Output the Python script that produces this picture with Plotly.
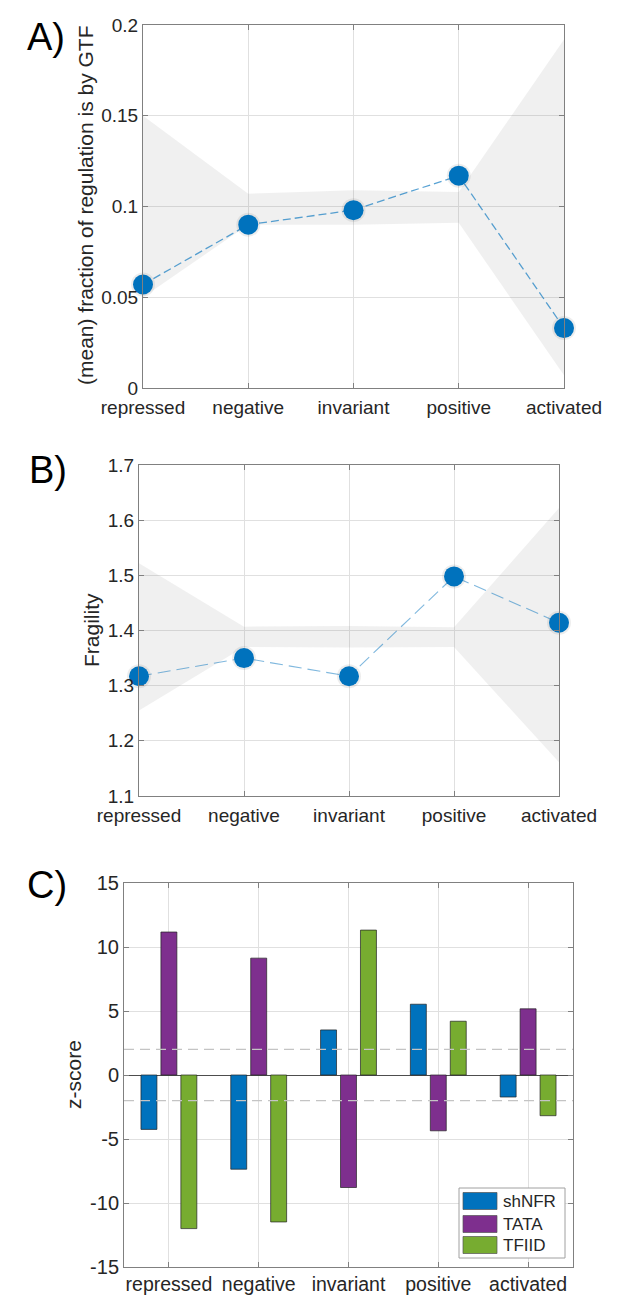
import plotly.graph_objects as go

# ---------------- data ----------------
categories = ["repressed", "negative", "invariant", "positive", "activated"]
cat_pos = [1, 2, 3, 4, 5]

gtf_mean = [0.057, 0.090, 0.098, 0.117, 0.033]
gtf_band_upper = [0.150, 0.107, 0.109, 0.108, 0.192]
gtf_band_lower = [0.050, 0.090, 0.090, 0.091, 0.007]
gtf_ticks = [0, 0.05, 0.1, 0.15, 0.2]

frag_mean = [1.317, 1.350, 1.317, 1.498, 1.414]
frag_band_upper = [1.522, 1.407, 1.408, 1.406, 1.622]
frag_band_lower = [1.255, 1.370, 1.369, 1.370, 1.161]
frag_ticks = [1.1, 1.2, 1.3, 1.4, 1.5, 1.6, 1.7]

series_names = ["shNFR", "TATA", "TFIID"]
zscore_shNFR = [-4.25, -7.36, 3.52, 5.53, -1.72]
zscore_TATA = [11.17, 9.13, -8.79, -4.36, 5.17]
zscore_TFIID = [-12.0, -11.48, 11.32, 4.20, -3.18]
z_thresholds = [2, -2]
z_ticks = [-15, -10, -5, 0, 5, 10, 15]
z_tick_labels = ["-15", "-10", "-5", "0", "5", "10", "15"]

# ---------------- style ----------------
W, H = 625, 1313
FONT = "Liberation Sans, Arial, Helvetica, sans-serif"
TXT = "#262626"
AXC = "#808080"
GRID = "#e0e0e0"
BLUE = "#0072BD"
series_colors = ["#0072BD", "#7E2F8E", "#77AC30"]
TICKSIZE = 19


def px_x(p):
    return p / W


def px_y(p):
    return 1 - p / H


fig = go.Figure()

# ---------- Panel A ----------
fig.add_trace(go.Scatter(
    x=cat_pos + cat_pos[::-1], y=gtf_band_upper + gtf_band_lower[::-1],
    fill="toself", fillcolor="rgba(128,128,128,0.12)", line=dict(width=0),
    mode="lines", hoverinfo="skip", showlegend=False, xaxis="x", yaxis="y"))
fig.add_trace(go.Scatter(
    x=cat_pos, y=gtf_mean, mode="lines",
    line=dict(color="rgba(0,114,189,0.65)", width=1.3, dash="8px,4px"),
    showlegend=False, xaxis="x", yaxis="y"))
fig.add_trace(go.Scatter(
    x=cat_pos, y=gtf_mean, mode="markers", cliponaxis=False,
    marker=dict(size=24, color="rgba(0,0,0,0.07)", line=dict(width=0)),
    showlegend=False, hoverinfo="skip", xaxis="x", yaxis="y"))
fig.add_trace(go.Scatter(
    x=cat_pos, y=gtf_mean, mode="markers", cliponaxis=False,
    marker=dict(size=20, color=BLUE, line=dict(width=0)),
    showlegend=False, xaxis="x", yaxis="y"))

# ---------- Panel B ----------
fig.add_trace(go.Scatter(
    x=cat_pos + cat_pos[::-1], y=frag_band_upper + frag_band_lower[::-1],
    fill="toself", fillcolor="rgba(128,128,128,0.12)", line=dict(width=0),
    mode="lines", hoverinfo="skip", showlegend=False, xaxis="x2", yaxis="y2"))
fig.add_trace(go.Scatter(
    x=cat_pos, y=frag_mean, mode="lines",
    line=dict(color="rgba(0,114,189,0.5)", width=1.1, dash="13px,6px"),
    showlegend=False, xaxis="x2", yaxis="y2"))
fig.add_trace(go.Scatter(
    x=cat_pos, y=frag_mean, mode="markers", cliponaxis=False,
    marker=dict(size=24, color="rgba(0,0,0,0.07)", line=dict(width=0)),
    showlegend=False, hoverinfo="skip", xaxis="x2", yaxis="y2"))
fig.add_trace(go.Scatter(
    x=cat_pos, y=frag_mean, mode="markers", cliponaxis=False,
    marker=dict(size=20, color=BLUE, line=dict(width=0)),
    showlegend=False, xaxis="x2", yaxis="y2"))

# ---------- Panel C ----------
for name, vals, col in zip(series_names, [zscore_shNFR, zscore_TATA, zscore_TFIID], series_colors):
    fig.add_trace(go.Bar(
        x=cat_pos, y=vals, name=name, marker=dict(color=col, line=dict(color="#222222", width=0.7)),
        showlegend=False, xaxis="x3", yaxis="y3"))

shapes = []
for t in z_thresholds:
    shapes.append(dict(type="line", xref="x3 domain", yref="y3", x0=0, x1=1, y0=t, y1=t,
                       line=dict(color="#c4c4c4", width=1.2, dash="10px,6px"), layer="above"))


# ---------- axes ----------
def axis_common():
    return dict(showline=True, linecolor=AXC, linewidth=1, mirror="ticks",
                ticks="inside", ticklen=5, tickcolor=AXC, tickwidth=1,
                showgrid=True, gridcolor=GRID, gridwidth=1, zeroline=False,
                automargin=False, tickangle=0,
                tickfont=dict(family=FONT, size=TICKSIZE, color=TXT))


xa = axis_common(); xa.update(domain=[px_x(143), px_x(564)], range=[1, 5], tickvals=cat_pos, ticktext=categories,
                              anchor="y", ticklabelstandoff=2)
ya = axis_common(); ya.update(domain=[px_y(388), px_y(25)], range=[0, 0.2], tickvals=gtf_ticks, anchor="x")
xb = axis_common(); xb.update(domain=[px_x(139), px_x(559)], range=[1, 5], tickvals=cat_pos, ticktext=categories,
                              anchor="y2", ticklabelstandoff=2)
yb = axis_common(); yb.update(domain=[px_y(796), px_y(465)], range=[1.1, 1.7], tickvals=frag_ticks, anchor="x2")
xc = axis_common(); xc.update(domain=[px_x(124), px_x(573)], range=[0.5, 5.5], tickvals=cat_pos, ticktext=categories, anchor="y3",
                              tickfont=dict(family=FONT, size=19.5, color=TXT))
yc = axis_common(); yc.update(domain=[px_y(1267), px_y(883)], range=[-15, 15], tickvals=z_ticks, ticktext=z_tick_labels,
                              anchor="x3", zeroline=True, zerolinecolor="#4d4d4d", zerolinewidth=1,
                              tickfont=dict(family=FONT, size=20, color=TXT))

annotations = [
    dict(text="A)", x=px_x(25), y=px_y(37), xanchor="left", yanchor="middle"),
    dict(text="B)", x=px_x(27), y=px_y(470), xanchor="left", yanchor="middle"),
    dict(text="C)", x=px_x(25), y=px_y(885), xanchor="left", yanchor="middle"),
]
for a in annotations:
    a.update(xref="paper", yref="paper", showarrow=False, font=dict(family=FONT, size=38, color="black"))

titles = [
    dict(text="(mean) fraction of regulation is by GTF", x=px_x(86), y=px_y(206)),
    dict(text="Fragility", x=px_x(91), y=px_y(630)),
    dict(text="z-score", x=px_x(73), y=px_y(1075)),
]
for a in titles:
    a.update(xref="paper", yref="paper", showarrow=False, textangle=-90,
             xanchor="center", yanchor="middle", font=dict(family=FONT, size=21, color=TXT))

annotations += titles

# ---------- manual legend (panel C) ----------
shapes.append(dict(type="rect", xref="paper", yref="paper",
                   x0=px_x(459), x1=px_x(565), y0=px_y(1258), y1=px_y(1188),
                   line=dict(color="#a0a0a0", width=1), fillcolor="white", layer="above"))
row_centers = [1201, 1224, 1245]
for name, col, rc in zip(series_names, series_colors, row_centers):
    shapes.append(dict(type="rect", xref="paper", yref="paper",
                       x0=px_x(463), x1=px_x(497), y0=px_y(rc + 8.5), y1=px_y(rc - 8.5),
                       line=dict(color="#555555", width=0.7), fillcolor=col, layer="above"))
    annotations.append(dict(text=name, xref="paper", yref="paper", x=px_x(501), y=px_y(rc),
                            xanchor="left", yanchor="middle", showarrow=False,
                            font=dict(family=FONT, size=17, color=TXT)))

fig.update_layout(
    width=W, height=H, autosize=False,
    margin=dict(l=0, r=0, t=0, b=0),
    paper_bgcolor="white", plot_bgcolor="white",
    xaxis=xa, yaxis=ya, xaxis2=xb, yaxis2=yb, xaxis3=xc, yaxis3=yc,
    barmode="group", bargap=1 / 3, bargroupgap=0.2,
    annotations=annotations,
    shapes=shapes,
    font=dict(family=FONT, color=TXT),
    showlegend=False,
)

fig.write_html("out.html",
               config={"displayModeBar": False},
               post_script="document.body.style.margin='0px';document.body.style.padding='0px';document.body.style.overflow='hidden';")
